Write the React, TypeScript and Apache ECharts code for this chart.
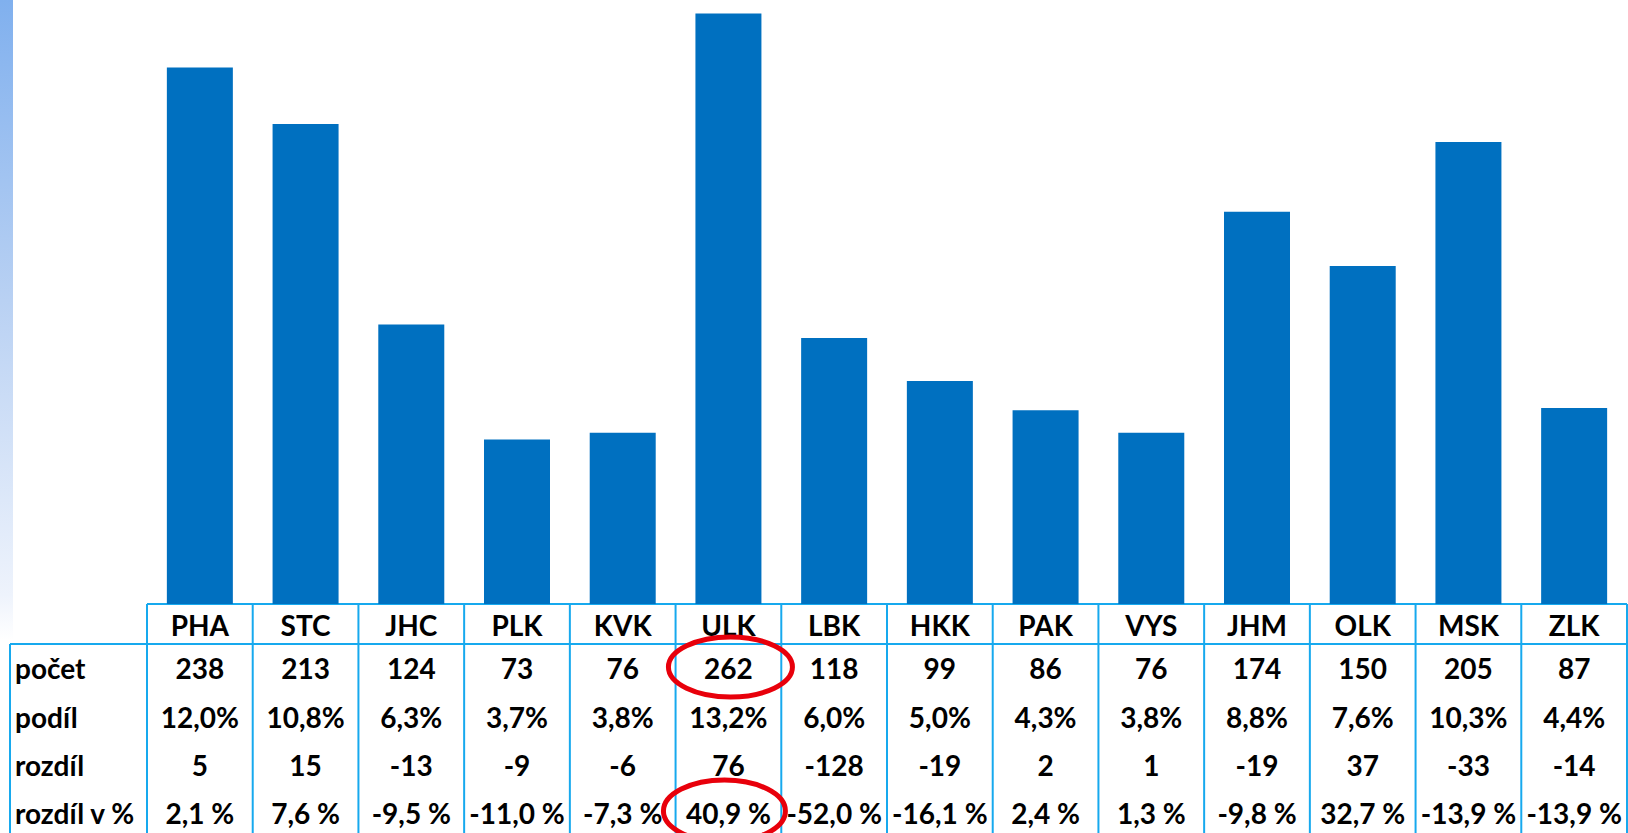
import React, { useEffect, useRef } from "react";
import * as echarts from "echarts";

const categories = ["PHA", "STC", "JHC", "PLK", "KVK", "ULK", "LBK", "HKK", "PAK", "VYS", "JHM", "OLK", "MSK", "ZLK"];
const pocet = [238, 213, 124, 73, 76, 262, 118, 99, 86, 76, 174, 150, 205, 87];
const podil = ["12,0%", "10,8%", "6,3%", "3,7%", "3,8%", "13,2%", "6,0%", "5,0%", "4,3%", "3,8%", "8,8%", "7,6%", "10,3%", "4,4%"];
const rozdil = [5, 15, -13, -9, -6, 76, -128, -19, 2, 1, -19, 37, -33, -14];
const rozdilPct = ["2,1 %", "7,6 %", "-9,5 %", "-11,0 %", "-7,3 %", "40,9 %", "-52,0 %", "-16,1 %", "2,4 %", "1,3 %", "-9,8 %", "32,7 %", "-13,9 %", "-13,9 %"];
const rowLabels = ["počet", "podíl", "rozdíl", "rozdíl v %"];
const highlighted = "ULK";

const W = 1628;
const H = 833;
const FONT = "Lato";
const FS = 28;
const LINE = "#17a9ee";
const BAR = "#0070c0";

export default function App() {
  const ref = useRef<HTMLDivElement>(null);

  useEffect(() => {
    if (!ref.current) return;
    const chart = echarts.init(ref.current, null, { renderer: "svg" });
    const gridLeft = 147;
    const gridRight = 1;
    const axisY = 604;
    chart.setOption({
      animation: false,
      backgroundColor: "#ffffff",
      grid: { left: gridLeft, right: gridRight, top: 0, bottom: H - axisY, containLabel: false },
      xAxis: {
        type: "category",
        data: categories,
        axisLine: { show: false },
        axisTick: { show: false },
        axisLabel: {
          margin: 21,
          verticalAlign: "middle",
          fontFamily: FONT,
          fontWeight: "bold",
          fontSize: FS,
          color: "#000000",
          interval: 0,
        },
        splitLine: { show: false },
      },
      yAxis: { type: "value", min: 0, max: 268, show: false, splitLine: { show: false } },
      series: [
        {
          type: "bar",
          data: pocet,
          barWidth: 66,
          itemStyle: { color: BAR },
        },
      ],
    });

    const colW = (W - gridLeft - gridRight) / categories.length;
    const xs = categories.map((c) => chart.convertToPixel({ xAxisIndex: 0 }, c) as number);
    const rowY = [668, 717, 765, 813];
    const rows: string[][] = [
      pocet.map(String),
      podil,
      rozdil.map(String),
      rozdilPct,
    ];
    const elements: any[] = [];
    elements.push({
      type: "rect",
      shape: { x: 0, y: 0, width: 13, height: 640 },
      style: {
        fill: new echarts.graphic.LinearGradient(0, 0, 0, 1, [
          { offset: 0, color: "#80b0ee" },
          { offset: 0.47, color: "#b9d1f3" },
          { offset: 0.93, color: "#eef3fc" },
          { offset: 1, color: "#ffffff" },
        ]),
      },
      silent: true,
    });
    const lineStyle = { stroke: LINE, lineWidth: 2 };
    elements.push({ type: "line", shape: { x1: gridLeft, y1: axisY, x2: W - gridRight, y2: axisY }, style: lineStyle });
    elements.push({ type: "line", shape: { x1: 10, y1: 644, x2: W - gridRight, y2: 644 }, style: lineStyle });
    elements.push({ type: "line", shape: { x1: 10, y1: 644, x2: 10, y2: H }, style: lineStyle });
    for (let i = 0; i <= categories.length; i++) {
      const x = gridLeft + i * colW;
      elements.push({ type: "line", shape: { x1: x, y1: axisY, x2: x, y2: H }, style: lineStyle });
    }
    rowLabels.forEach((lbl, r) => {
      elements.push({
        type: "text",
        x: 15,
        y: rowY[r],
        style: { text: lbl, fontFamily: FONT, fontWeight: "bold", fontSize: FS, fill: "#000", align: "left", verticalAlign: "middle" },
      });
    });
    rows.forEach((row, r) => {
      row.forEach((val, i) => {
        elements.push({
          type: "text",
          x: xs[i],
          y: rowY[r],
          style: { text: val, fontFamily: FONT, fontWeight: "bold", fontSize: FS, fill: "#000", align: "center", verticalAlign: "middle" },
        });
      });
    });
    const hx = xs[categories.indexOf(highlighted)];
    elements.push({
      type: "ellipse",
      shape: { cx: hx + 2, cy: 667, rx: 62, ry: 30 },
      style: { fill: "none", stroke: "#e8000b", lineWidth: 5 },
      z: 10,
    });
    elements.push({
      type: "ellipse",
      shape: { cx: hx - 4, cy: 811, rx: 61, ry: 31 },
      style: { fill: "none", stroke: "#e8000b", lineWidth: 5 },
      z: 10,
    });
    chart.setOption({ graphic: { elements } });

    return () => chart.dispose();
  }, []);

  return <div ref={ref} style={{ position: "fixed", left: 0, top: 0, width: W, height: H }} />;
}
